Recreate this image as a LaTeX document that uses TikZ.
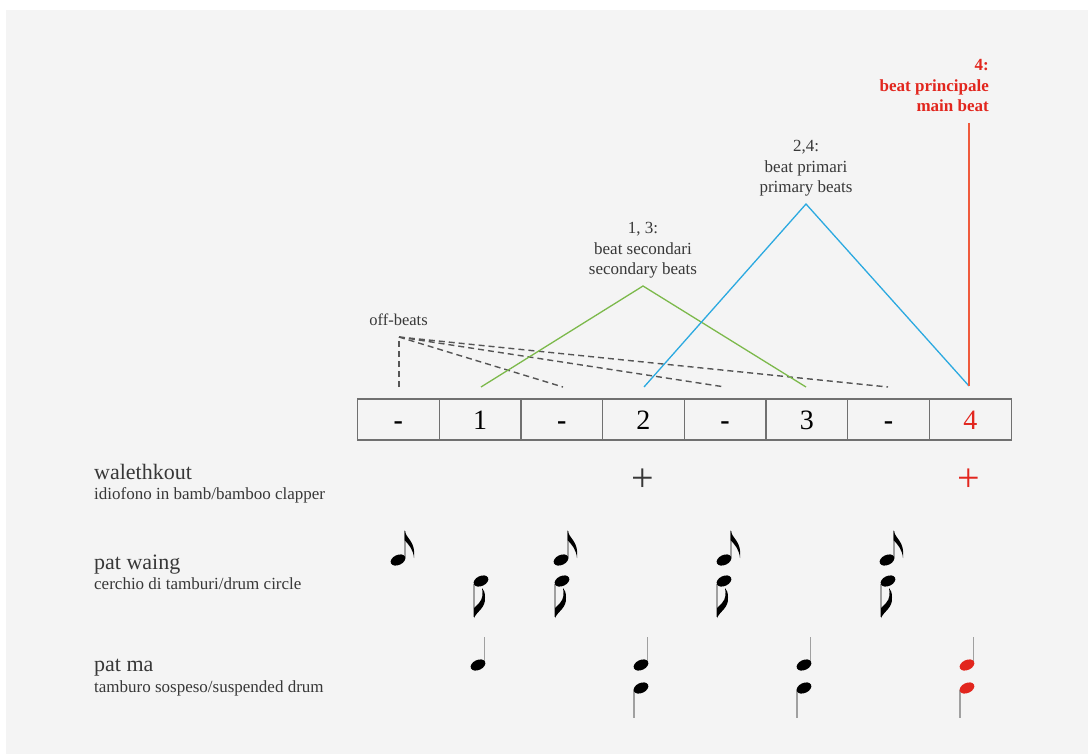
\documentclass[tikz,border=0pt]{standalone}
\usepackage{fontspec}
\setmainfont{Liberation Serif}
\definecolor{bg}{HTML}{F4F4F4}
\definecolor{txt}{HTML}{383838}
\definecolor{gline}{HTML}{7CB94B}
\definecolor{bline}{HTML}{2BA9E0}
\definecolor{rline}{HTML}{EF5A3C}
\definecolor{rtxt}{HTML}{E2261E}
\definecolor{boxc}{HTML}{707070}
\definecolor{dashc}{HTML}{555555}
\definecolor{stemc}{HTML}{A0A0A0}
\begin{document}
\begin{tikzpicture}[x=1pt,y=-1pt,
  lab/.style={font=\fontsize{17}{20.5}\selectfont, text=txt, inner sep=0pt, align=center},
  redlab/.style={font=\fontsize{17}{20.5}\selectfont\bfseries, text=rtxt, inner sep=0pt, align=right},
  ttl/.style={font=\fontsize{22}{24}\selectfont, text=txt, inner sep=0pt, anchor=base west},
  sub/.style={font=\fontsize{17}{19}\selectfont, text=txt, inner sep=0pt, anchor=base west},
  cell/.style={draw=boxc, line width=1.2pt, minimum width=81.7pt, minimum height=41pt, inner sep=0pt,
    text height=19pt, text depth=0pt, font=\fontsize{28}{30}\selectfont, text=black},
  plus/.style={font=\fontsize{40}{42}\selectfont, inner sep=0pt},
  offdash/.style={draw=dashc, line width=1.4pt, dash pattern=on 6pt off 4pt},
  gpath/.style={draw=gline, line width=1.3pt},
  bpath/.style={draw=bline, line width=1.3pt},
  rpath/.style={draw=rline, line width=1.5pt},
  stem/.style={draw=stemc, line width=1.1pt},
  nhead/.pic={\fill[rotate=25] (0,0) ellipse [x radius=7.8pt, y radius=5pt];},
  eighthup/.pic={\draw[stem] (7,-2) -- (7,-29);
    \fill (6.5,-30) .. controls (8,-21) and (18,-19) .. (16,-2) .. controls (15,-11) and (11,-15) .. (6.5,-20) -- cycle;
    \pic {nhead};},
  eighthdown/.pic={\draw[stem] (-7,3) -- (-7,36);
    \fill (-7,37) .. controls (-4,30) and (5,27) .. (4,16) .. controls (4,12) and (3,9) .. (1,7)
      .. controls (2,12) and (2,18) .. (-2,22) .. controls (-4,24) .. (-7,27) -- cycle;
    \pic {nhead};},
  quarterup/.pic={\draw[stem] (6.5,-2) -- (6.5,-28); \pic {nhead};},
  quarterdown/.pic={\draw[stem] (-7,2) -- (-7,30); \pic {nhead};}
]
\useasboundingbox (0,0) rectangle (1088,754);
\fill[white] (0,0) rectangle (1088,754);
\fill[bg] (6,10) rectangle (1088,754);

% beat cells
\foreach \t [count=\i] in {{\textbf{-}},1,{\textbf{-}},2,{\textbf{-}},3,{\textbf{-}}}
  \node[cell] (c\i) at ({357.5+81.7*\i-40.85},419.5) {\t};
\node[cell, text=rtxt] (c8) at ({357.5+81.7*8-40.85},419.5) {4};

% connector points
\coordinate (g1) at (481,387);
\coordinate (gp) at (643,286);
\coordinate (g3) at (806,387);
\coordinate (b2) at (644,387);
\coordinate (bp) at (806,204);
\coordinate (b4) at (969,386);
\coordinate (rt) at (969,123);
\coordinate (ob) at (399,337);
\coordinate (o1) at (399,387);
\coordinate (o2) at (563,387);
\coordinate (o3) at (725,387);
\coordinate (o4) at (888,387);

% off-beat dashed lines
\draw[offdash] (o1) -- (ob);
\draw[offdash] (ob) -- (o2);
\draw[offdash] (ob) -- (o3);
\draw[offdash] (ob) -- (o4);

% secondary, primary, main
\draw[gpath] (g1) -- (gp) -- (g3);
\draw[bpath] (b2) -- (bp) -- (b4);
\draw[rpath] (rt) -- (b4);

% labels
\node[lab, font=\fontsize{16.5}{19}\selectfont, anchor=base] (off) at (398.5,326) {off-beats};
\node[lab, anchor=south] (sec) at (643,278.7) {1, 3:\\beat secondari\\secondary beats};
\node[lab, anchor=south] (pri) at (806,196.7) {2,4:\\beat primari\\primary beats};
\node[redlab, anchor=south east] (mainb) at (989,112) {4:\\beat principale\\main beat};

% instrument labels
\node[ttl] (wal) at (94,479) {walethkout};
\node[sub] (wals) at (94,499) {idiofono in bamb/bamboo clapper};
\node[ttl] (pw) at (94,569) {pat waing};
\node[sub] (pws) at (94,589) {cerchio di tamburi/drum circle};
\node[ttl] (pm) at (94,671) {pat ma};
\node[sub] (pms) at (94,692) {tamburo sospeso/suspended drum};

% walethkout
\node[plus, text=txt] (p2) at (643,480) {+};
\node[plus, text=rtxt] (p4) at (969,480) {+};

% pat waing
\pic at (398,560) {eighthup};
\pic at (561,560) {eighthup};
\pic at (724,560) {eighthup};
\pic at (887,560) {eighthup};
\pic at (481,581) {eighthdown};
\pic at (562,581) {eighthdown};
\pic at (724,581) {eighthdown};
\pic at (888,581) {eighthdown};

% pat ma
\pic at (478,665) {quarterup};
\pic at (641,665) {quarterup};
\pic at (641,688) {quarterdown};
\pic at (804,665) {quarterup};
\pic at (804,688) {quarterdown};
\pic[color=rtxt] at (967,665) {quarterup};
\pic[color=rtxt] at (967,688) {quarterdown};
\end{tikzpicture}
\end{document}
